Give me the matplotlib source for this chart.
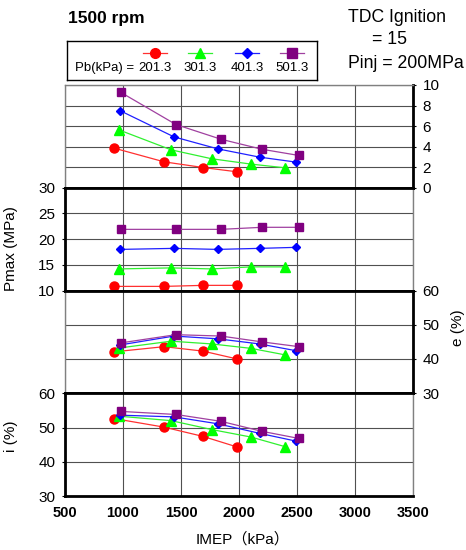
import matplotlib
matplotlib.use('Agg')
import matplotlib.pyplot as plt

plt.rcParams['font.family'] = ['Liberation Sans', 'Noto Sans CJK JP']

# ----------------------------------------------------------------------------------------
# 数据 (Pb = 201.3 / 301.3 / 401.3 / 501.3 kPa)
pb_labels = ['201.3', '301.3', '401.3', '501.3']

# IMEP (kPa)
imep_201 = [925, 1355, 1690, 1985]
imep_301 = [965, 1415, 1765, 2105, 2398]
imep_401 = [975, 1440, 1815, 2177, 2495]
imep_501 = [980, 1457, 1845, 2196, 2517]

# 最上段 (右轴 0-10)
top_201 = [3.85, 2.52, 1.97, 1.55]
top_301 = [5.63, 3.69, 2.82, 2.30, 1.94]
top_401 = [7.50, 4.95, 3.79, 2.98, 2.49]
top_501 = [9.29, 6.15, 4.72, 3.75, 3.14]

# Pmax (MPa)
pmax_201 = [10.8, 10.8, 11.0, 11.0]
pmax_301 = [14.2, 14.4, 14.2, 14.6, 14.6]
pmax_401 = [18.0, 18.2, 18.0, 18.2, 18.4]
pmax_501 = [21.9, 21.9, 21.9, 22.3, 22.3]

# e (%)
e_201 = [42.1, 43.6, 42.3, 40.0]
e_301 = [43.2, 45.2, 44.4, 43.1, 41.2]
e_401 = [44.1, 46.7, 45.9, 44.4, 42.4]
e_501 = [44.7, 47.1, 46.7, 45.0, 43.6]

# i (%)
i_201 = [52.6, 50.1, 47.4, 44.3]
i_301 = [53.3, 52.0, 49.4, 47.2, 44.4]
i_401 = [53.6, 53.1, 51.1, 48.3, 46.0]
i_501 = [54.7, 53.8, 51.8, 48.9, 46.8]
# ----------------------------------------------------------------------------------------

imep_list = [imep_201, imep_301, imep_401, imep_501]
panels = [
    [top_201, top_301, top_401, top_501],
    [pmax_201, pmax_301, pmax_401, pmax_501],
    [e_201, e_301, e_401, e_501],
    [i_201, i_301, i_401, i_501],
]

marker_colors = ['#ff0000', '#00ff00', '#0000ff', '#800080']
line_colors = ['#ff3030', '#30f030', '#2020ff', '#a040a0']
markers = ['o', '^', 'D', 's']
msizes = [6.5, 7, 4.5, 6]

W, H = 466, 550
fig = plt.figure(figsize=(W / 100, H / 100), dpi=100)
axes = fig.subplots(4, 1, sharex=True)
fig.subplots_adjust(left=65 / W, right=413 / W, bottom=1 - 496 / H, top=1 - 85 / H, hspace=0)

ylims = [(0, 10), (10, 30), (30, 60), (30, 60)]
yticks = [range(0, 11, 2), range(10, 31, 5), range(30, 61, 10), range(30, 61, 10)]
sides = ['right', 'left', 'right', 'left']
thick = [['right', 'bottom'], ['left', 'top', 'bottom'], ['right', 'top', 'bottom'], ['left', 'top', 'bottom']]

for k, ax in enumerate(axes):
    for s in range(4):
        ax.plot(imep_list[s], panels[k][s], color=line_colors[s], lw=0.9,
                marker=markers[s], ms=msizes[s], mfc=marker_colors[s], mec=marker_colors[s], zorder=3)
    ax.set_xlim(500, 3500)
    ax.set_xticks(range(500, 3501, 500))
    ax.set_ylim(*ylims[k])
    ax.set_yticks(list(yticks[k]))
    ax.grid(True, color='#505050', lw=0.8)
    ax.set_axisbelow(True)
    for name, sp in ax.spines.items():
        if name in thick[k]:
            sp.set_linewidth(2.0)
            sp.set_color('black')
        else:
            sp.set_linewidth(1.0)
            sp.set_color('#808080')
        sp.set_zorder(4)
    if sides[k] == 'right':
        ax.yaxis.tick_right()
        ax.yaxis.set_label_position('right')
    ax.tick_params(axis='y', length=2, pad=5, labelsize=11)
    ax.tick_params(axis='x', length=0)

for ax in axes[:3]:
    ax.tick_params(axis='x', labelbottom=False)

axes[3].tick_params(axis='x', pad=7, labelsize=10.5)
for lab in axes[3].get_xticklabels():
    lab.set_fontweight('bold')

axes[1].set_ylabel('Pmax (MPa)', fontsize=11)
axes[1].yaxis.set_label_coords(-0.135, 0.41)
axes[2].set_ylabel('e (%)', fontsize=11)
axes[2].yaxis.set_label_coords(1.11, 0.635)
axes[3].set_ylabel('i (%)', fontsize=11)
axes[3].yaxis.set_label_coords(-0.135, 0.58)
axes[3].set_xlabel('IMEP（kPa）', fontsize=11)
axes[3].xaxis.set_label_coords(0.51, -0.35)

# 标题与条件
fig.text(68 / W, 1 - 18 / H, '1500 rpm', fontsize=12.5, fontweight='bold', va='center', ha='left')
fig.text(348 / W, 1 - 17 / H, 'TDC Ignition', fontsize=12.7, va='center', ha='left')
fig.text(372 / W, 1 - 40 / H, '= 15', fontsize=12.7, va='center', ha='left')
fig.text(348 / W, 1 - 63 / H, 'Pinj = 200MPa', fontsize=12.7, va='center', ha='left')

# 图例
leg = fig.add_axes([67 / W, 1 - 80 / H, 250 / W, 39 / H])
leg.set_xlim(67, 317)
leg.set_ylim(80, 41)
leg.set_xticks([])
leg.set_yticks([])
for sp in leg.spines.values():
    sp.set_linewidth(1.0)
leg_x = [155, 200, 247, 292]
for s in range(4):
    leg.plot([leg_x[s] - 12, leg_x[s] + 12], [53, 53], color=line_colors[s], lw=0.9)
    leg.plot([leg_x[s]], [53], marker=markers[s], ms=msizes[s] + 0.5,
             mfc=marker_colors[s], mec=marker_colors[s], ls='none')
    leg.text(leg_x[s], 68, pb_labels[s], fontsize=9.5, ha='center', va='center')
leg.text(138, 68, 'Pb(kPa) = ', fontsize=9.5, ha='right', va='center')

plt.savefig('out.png', dpi=100)
